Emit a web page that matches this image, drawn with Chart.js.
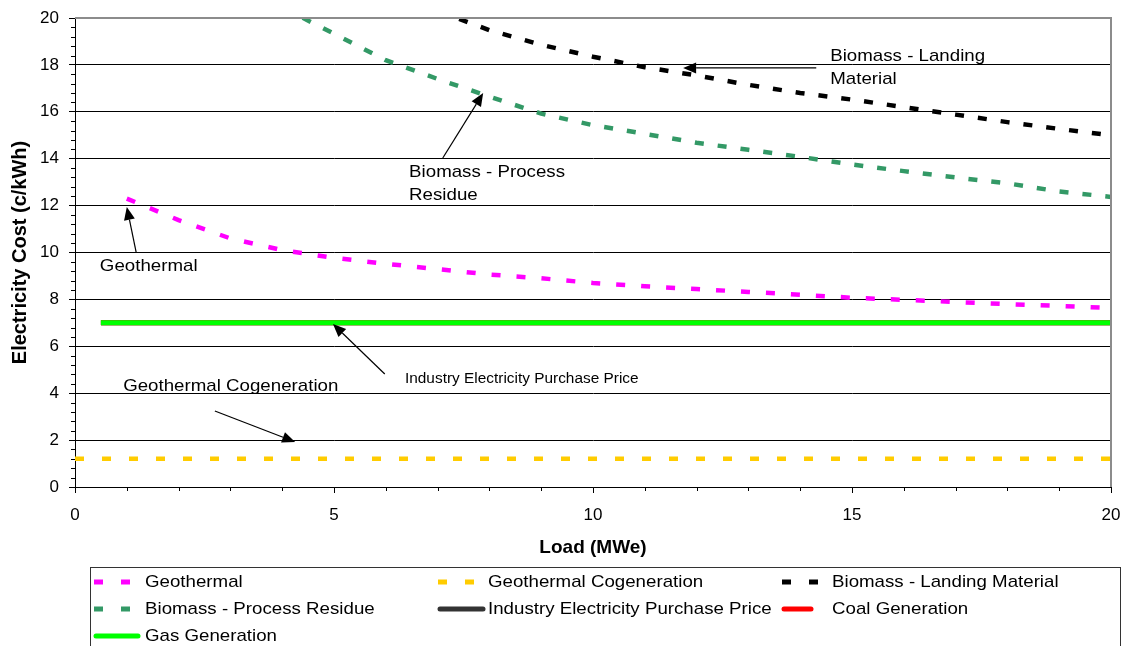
<!DOCTYPE html>
<html>
<head>
<meta charset="utf-8">
<script src="https://cdn.jsdelivr.net/npm/chart.js@4/dist/chart.umd.min.js"></script>
<style>
  html, body { margin: 0; padding: 0; background: #fff; }
  #wrap { width: 1130px; height: 646px; }
</style>
</head>
<body>
<div id="wrap"><canvas id="c" width="1130" height="646"></canvas></div>
<script>
// Load (MWe) and electricity cost (c/kWh) for each generation option
const geoLoad = [1, 2, 3, 4, 5, 6, 7, 8, 9, 10, 11, 12, 13, 14, 15, 16, 17, 18, 19, 20];
const geoCost = [12.3, 11.38, 10.6, 10.1, 9.77, 9.52, 9.29, 9.06, 8.9, 8.7, 8.56, 8.44, 8.32, 8.2, 8.07, 7.98, 7.89, 7.8, 7.72, 7.63];

const cogenLoad = [0, 20];
const cogenCost = [1.2, 1.2];

const landingLoad = [7, 8, 9, 10, 11, 12, 13, 14, 15, 16, 17, 18, 19, 20];
const landingCost = [20.3, 19.48, 18.86, 18.35, 17.9, 17.55, 17.15, 16.8, 16.52, 16.2, 15.88, 15.56, 15.27, 15.0];

const residueLoad = [4, 5, 6, 7, 8, 9, 10, 11, 12, 13, 14, 15, 16, 17, 18, 19, 20];
const residueCost = [20.45, 19.33, 18.2, 17.4, 16.65, 15.92, 15.43, 15.06, 14.68, 14.38, 14.08, 13.75, 13.47, 13.2, 12.95, 12.6, 12.37];

const flatLoad = [0.5, 20];
const industryCost = [7, 7];
const coalCost = [7, 7];
const gasCost = [7, 7];

const seriesNames = [
  'Geothermal', 'Geothermal Cogeneration', 'Biomass - Landing Material',
  'Biomass - Process Residue', 'Industry Electricity Purchase Price',
  'Coal Generation', 'Gas Generation'
];

// Axis ticks
const xMajorStep = 5, xMinorStep = 1;
const yMajorStep = 2, yMinorStep = 0.4;

const FONT = "'Liberation Sans', Arial, sans-serif";

function pts(xs, ys) { return xs.map((x, i) => ({ x: x, y: ys[i] })); }

// Callout labels with arrows, placed in data units
const callouts = [
  { lines: ['Biomass - Landing', 'Material'], at: [14.58, 18.38], size: 17, from: [14.31, 17.87], to: [11.74, 17.87] },
  { lines: ['Biomass - Process', 'Residue'], at: [6.45, 13.43], size: 17, from: [7.10, 14.03], to: [7.88, 16.80] },
  { lines: ['Geothermal'], at: [0.48, 9.42], size: 17, from: [1.18, 10.02], to: [1.00, 11.94] },
  { lines: ['Industry Electricity Purchase Price'], at: [6.37, 4.61], size: 14, from: [5.98, 4.82], to: [4.98, 6.95] },
  { lines: ['Geothermal Cogeneration'], at: [0.93, 4.31], size: 17, from: [2.70, 3.24], to: [4.25, 1.92] }
];

function stretchText(ctx, text, x, y, sx) {
  ctx.save();
  ctx.translate(x, y);
  ctx.scale(sx, 1);
  ctx.fillText(text, 0, 0);
  ctx.restore();
}

// Minor tick marks on both axes
const minorTicks = {
  id: 'minorTicks',
  afterDraw(chart) {
    const { ctx, chartArea: a, scales: { x, y } } = chart;
    ctx.save();
    ctx.strokeStyle = '#000';
    ctx.lineWidth = 1;
    ctx.beginPath();
    for (let v = 0; v <= 20 + 1e-9; v += yMinorStep) {
      const r = v / yMajorStep;
      if (Math.abs(r - Math.round(r)) < 1e-6) continue;
      const py = Math.round(y.getPixelForValue(v)) + 0.5;
      ctx.moveTo(a.left - 4, py);
      ctx.lineTo(a.left, py);
    }
    for (let v = 0; v <= 20 + 1e-9; v += xMinorStep) {
      if (v % xMajorStep === 0) continue;
      const px = Math.round(x.getPixelForValue(v)) + 0.5;
      ctx.moveTo(px, a.bottom);
      ctx.lineTo(px, a.bottom + 4);
    }
    ctx.stroke();
    ctx.restore();
  }
};

// Grey frame on the top and right of the plot area
const plotFrame = {
  id: 'plotFrame',
  afterDatasetsDraw(chart) {
    const { ctx, chartArea: a } = chart;
    ctx.save();
    ctx.strokeStyle = '#8c8c8c';
    ctx.lineWidth = 2;
    ctx.beginPath();
    ctx.moveTo(a.left, a.top);
    ctx.lineTo(a.right, a.top);
    ctx.lineTo(a.right, a.bottom);
    ctx.stroke();
    ctx.restore();
  }
};

// Callout text and arrows
const calloutPlugin = {
  id: 'callouts',
  afterDatasetsDraw(chart) {
    const { ctx, scales: { x, y } } = chart;
    ctx.save();
    ctx.fillStyle = '#000';
    ctx.strokeStyle = '#000';
    ctx.textBaseline = 'middle';
    ctx.textAlign = 'left';
    callouts.forEach(c => {
      ctx.font = c.size + 'px ' + FONT;
      const tx = x.getPixelForValue(c.at[0]);
      const ty = y.getPixelForValue(c.at[1]);
      c.lines.forEach((t, i) => stretchText(ctx, t, tx, ty + i * 23, 1.1));
      const x1 = x.getPixelForValue(c.from[0]), y1 = y.getPixelForValue(c.from[1]);
      const x2 = x.getPixelForValue(c.to[0]), y2 = y.getPixelForValue(c.to[1]);
      const ang = Math.atan2(y2 - y1, x2 - x1);
      const hl = 13, hw = 5.5;
      const bx = x2 - hl * Math.cos(ang), by = y2 - hl * Math.sin(ang);
      ctx.lineWidth = 1.2;
      ctx.beginPath();
      ctx.moveTo(x1, y1);
      ctx.lineTo(bx, by);
      ctx.stroke();
      ctx.beginPath();
      ctx.moveTo(x2, y2);
      ctx.lineTo(bx + hw * Math.sin(ang), by - hw * Math.cos(ang));
      ctx.lineTo(bx - hw * Math.sin(ang), by + hw * Math.cos(ang));
      ctx.closePath();
      ctx.fill();
    });
    ctx.restore();
  }
};

// Boxed three-column legend under the chart
const boxLegend = {
  id: 'boxLegend',
  afterDraw(chart) {
    const { ctx } = chart;
    const colKey = [94, 438, 782];
    const colText = [145, 488, 832];
    const solidLen = [46, 47, 31];
    const rowY = [582, 609, 636];
    ctx.save();
    ctx.strokeStyle = '#333';
    ctx.lineWidth = 1;
    ctx.strokeRect(90.5, 567.5, 1030, 120);
    ctx.font = '17px ' + FONT;
    ctx.fillStyle = '#000';
    ctx.textBaseline = 'middle';
    chart.data.datasets.forEach((ds, i) => {
      const col = i % 3, row = Math.floor(i / 3);
      const kx = colKey[col], ky = rowY[row];
      ctx.strokeStyle = ds.borderColor;
      ctx.lineWidth = 5;
      ctx.beginPath();
      if (ds.borderDash && ds.borderDash.length) {
        ctx.lineCap = 'butt';
        ctx.moveTo(kx, ky); ctx.lineTo(kx + 9, ky);
        ctx.moveTo(kx + 27, ky); ctx.lineTo(kx + 36, ky);
      } else {
        ctx.lineCap = 'round';
        ctx.moveTo(kx + 2, ky); ctx.lineTo(kx + solidLen[col] - 2, ky);
      }
      ctx.stroke();
      stretchText(ctx, ds.label, colText[col], ky, 1.1);
    });
    ctx.restore();
  }
};

const common = { pointRadius: 0, pointHoverRadius: 0, fill: false, tension: 0, borderCapStyle: 'butt' };

new Chart(document.getElementById('c'), {
  type: 'line',
  data: {
    datasets: [
      Object.assign({ label: seriesNames[0], data: pts(geoLoad, geoCost), borderColor: '#ff00ff', borderWidth: 4.5, borderDash: [9, 16], order: 3 }, common),
      Object.assign({ label: seriesNames[1], data: pts(cogenLoad, cogenCost), borderColor: '#ffcc00', borderWidth: 4.5, borderDash: [9, 18], order: 3 }, common),
      Object.assign({ label: seriesNames[2], data: pts(landingLoad, landingCost), borderColor: '#000000', borderWidth: 4.5, borderDash: [9, 14], order: 3 }, common),
      Object.assign({ label: seriesNames[3], data: pts(residueLoad, residueCost), borderColor: '#339966', borderWidth: 4.5, borderDash: [9, 14], order: 3 }, common),
      Object.assign({ label: seriesNames[4], data: pts(flatLoad, industryCost), borderColor: '#333333', borderWidth: 5, order: 2 }, common),
      Object.assign({ label: seriesNames[5], data: pts(flatLoad, coalCost), borderColor: '#ff0000', borderWidth: 5, order: 1 }, common),
      Object.assign({ label: seriesNames[6], data: pts(flatLoad, gasCost), borderColor: '#00ff00', borderWidth: 5, order: 0 }, common)
    ]
  },
  options: {
    responsive: false,
    animation: false,
    devicePixelRatio: 1,
    layout: { padding: { left: 0, right: 19, top: 18, bottom: 87 } },
    plugins: {
      legend: { display: false },
      tooltip: { enabled: false },
      title: { display: false }
    },
    scales: {
      x: {
        type: 'linear',
        min: 0, max: 20,
        afterFit(s) { s.height = 72; s.paddingLeft = 0; s.paddingRight = 0; },
        ticks: {
          stepSize: xMajorStep,
          autoSkip: false,
          maxRotation: 0,
          padding: 12,
          color: '#000',
          font: { family: FONT, size: 17 }
        },
        grid: { drawOnChartArea: false, drawTicks: true, tickLength: 6, color: '#000', tickColor: '#000' },
        border: { display: true, color: '#000', width: 1 },
        title: {
          display: true,
          text: 'Load (MWe)',
          color: '#000',
          padding: { top: 0, bottom: 0 },
          font: { family: FONT, size: 19, weight: 'bold' }
        }
      },
      y: {
        type: 'linear',
        min: 0, max: 20,
        afterFit(s) { s.width = 75; s.paddingTop = 0; s.paddingBottom = 0; },
        ticks: {
          stepSize: yMajorStep,
          autoSkip: false,
          padding: 10,
          color: '#000',
          font: { family: FONT, size: 17 }
        },
        grid: { drawOnChartArea: true, drawTicks: true, tickLength: 6, color: '#000', tickColor: '#000', lineWidth: 1 },
        border: { display: true, color: '#000', width: 1 },
        title: {
          display: true,
          text: 'Electricity Cost (c/kWh)',
          color: '#000',
          padding: { top: 8, bottom: 0 },
          font: { family: FONT, size: 20, weight: 'bold' }
        }
      }
    }
  },
  plugins: [minorTicks, plotFrame, calloutPlugin, boxLegend]
});
</script>
</body>
</html>
